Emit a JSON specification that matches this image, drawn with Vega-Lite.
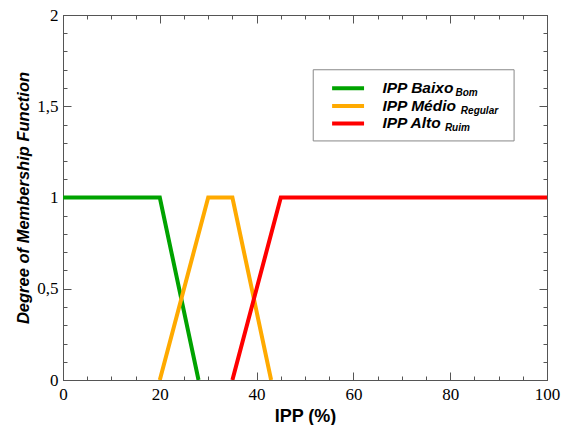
{
  "$schema": "https://vega.github.io/schema/vega-lite/v6.json",
  "width": 484,
  "height": 365,
  "autosize": {"type": "none"},
  "padding": {"left": 63, "top": 15, "right": 17, "bottom": 45},
  "background": "white",
  "config": {
    "view": {"stroke": "#555", "strokeWidth": 1},
    "axis": {
      "domainColor": "#555", "tickColor": "#555", "grid": false,
      "labelFont": "Liberation Serif", "labelFontSize": 17, "labelColor": "black",
      "titleFont": "Liberation Sans", "titleFontWeight": "bold", "titleColor": "black"
    }
  },
  "datasets": {
    "mf": [
      {"series": "Baixo", "x": 0, "y": 1},
      {"series": "Baixo", "x": 20, "y": 1},
      {"series": "Baixo", "x": 28, "y": 0},
      {"series": "Medio", "x": 20, "y": 0},
      {"series": "Medio", "x": 30, "y": 1},
      {"series": "Medio", "x": 35, "y": 1},
      {"series": "Medio", "x": 43, "y": 0},
      {"series": "Alto", "x": 35, "y": 0},
      {"series": "Alto", "x": 45, "y": 1},
      {"series": "Alto", "x": 100, "y": 1}
    ]
  },
  "resolve": {"axis": {"x": "independent", "y": "independent"}},
  "layer": [
    {
      "data": {"name": "mf"},
      "mark": {"type": "line", "strokeWidth": 4, "strokeJoin": "miter", "strokeCap": "butt", "clip": true},
      "encoding": {
        "x": {
          "field": "x", "type": "quantitative",
          "scale": {"domain": [0, 100], "nice": false, "zero": false},
          "axis": {
            "orient": "bottom", "title": "IPP (%)", "titleFontSize": 18, "titlePadding": 1,
            "values": [0,5,10,15,20,25,30,35,40,45,50,55,60,65,70,75,80,85,90,95,100],
            "labelExpr": "datum.value % 20 === 0 ? datum.label : ''",
            "tickSize": {"condition": {"test": "datum.value % 20 === 0", "value": -8}, "value": -4},
            "labelPadding": 14, "labelFlush": false, "labelOverlap": false
          }
        },
        "y": {
          "field": "y", "type": "quantitative",
          "scale": {"domain": [0, 2], "nice": false},
          "axis": {
            "orient": "left", "title": "Degree of Membership Function", "titleFontSize": 16.5,
            "titleFontStyle": "italic", "titlePadding": 5,
            "values": [0,0.1,0.2,0.3,0.4,0.5,0.6,0.7,0.8,0.9,1,1.1,1.2,1.3,1.4,1.5,1.6,1.7,1.8,1.9,2],
            "labelExpr": "abs(datum.value*2 - round(datum.value*2)) < 1e-6 ? replace(format(datum.value, '~g'), '.', ',') : ''",
            "tickSize": {"condition": {"test": "abs(datum.value*2 - round(datum.value*2)) < 1e-6", "value": -8}, "value": -4},
            "labelPadding": 13, "labelFlush": false, "labelOverlap": false
          }
        },
        "color": {
          "field": "series", "type": "nominal",
          "scale": {"domain": ["Baixo", "Medio", "Alto"], "range": ["#00a300", "#ffaa00", "#ff0000"]},
          "legend": null
        },
        "order": {"field": "x", "type": "quantitative"}
      }
    },
    {
      "data": {"name": "mf"},
      "mark": {"type": "point", "opacity": 0},
      "encoding": {
        "x": {
          "field": "x", "type": "quantitative",
          "axis": {
            "orient": "top", "title": null, "labels": false,
            "values": [0,5,10,15,20,25,30,35,40,45,50,55,60,65,70,75,80,85,90,95,100],
            "tickSize": {"condition": {"test": "datum.value % 20 === 0", "value": -8}, "value": -4}
          }
        },
        "y": {
          "field": "y", "type": "quantitative",
          "axis": {
            "orient": "right", "title": null, "labels": false,
            "values": [0,0.1,0.2,0.3,0.4,0.5,0.6,0.7,0.8,0.9,1,1.1,1.2,1.3,1.4,1.5,1.6,1.7,1.8,1.9,2],
            "tickSize": {"condition": {"test": "abs(datum.value*2 - round(datum.value*2)) < 1e-6", "value": -8}, "value": -4}
          }
        }
      }
    },
    {
      "data": {"values": [{}]},
      "mark": {"type": "rect", "fill": "white", "stroke": "#888", "strokeWidth": 1},
      "encoding": {
        "x": {"datum": 51.7, "type": "quantitative", "axis": null},
        "x2": {"datum": 93.2},
        "y": {"datum": 1.70, "type": "quantitative", "axis": null},
        "y2": {"datum": 1.31}
      }
    },
    {
      "data": {"values": [{}]},
      "mark": {"type": "rule", "strokeWidth": 4, "color": "#00a300"},
      "encoding": {
        "x": {"datum": 55.6, "type": "quantitative", "axis": null}, "x2": {"datum": 62.2},
        "y": {"datum": 1.598, "type": "quantitative", "axis": null}
      }
    },
    {
      "data": {"values": [{}]},
      "mark": {"type": "rule", "strokeWidth": 4, "color": "#ffaa00"},
      "encoding": {
        "x": {"datum": 55.6, "type": "quantitative", "axis": null}, "x2": {"datum": 62.2},
        "y": {"datum": 1.501, "type": "quantitative", "axis": null}
      }
    },
    {
      "data": {"values": [{}]},
      "mark": {"type": "rule", "strokeWidth": 4, "color": "#ff0000"},
      "encoding": {
        "x": {"datum": 55.6, "type": "quantitative", "axis": null}, "x2": {"datum": 62.2},
        "y": {"datum": 1.406, "type": "quantitative", "axis": null}
      }
    },
    {
      "data": {"values": [{}]},
      "mark": {"type": "text", "text": "IPP Baixo", "align": "left", "baseline": "middle", "font": "Liberation Sans", "fontSize": 15.5, "fontWeight": "bold", "fontStyle": "italic"},
      "encoding": {
        "x": {"datum": 66.0, "type": "quantitative", "axis": null},
        "y": {"datum": 1.598, "type": "quantitative", "axis": null}
      }
    },
    {
      "data": {"values": [{}]},
      "mark": {"type": "text", "text": "IPP Médio", "align": "left", "baseline": "middle", "font": "Liberation Sans", "fontSize": 15.5, "fontWeight": "bold", "fontStyle": "italic"},
      "encoding": {
        "x": {"datum": 66.0, "type": "quantitative", "axis": null},
        "y": {"datum": 1.501, "type": "quantitative", "axis": null}
      }
    },
    {
      "data": {"values": [{}]},
      "mark": {"type": "text", "text": "IPP Alto", "align": "left", "baseline": "middle", "font": "Liberation Sans", "fontSize": 15.5, "fontWeight": "bold", "fontStyle": "italic"},
      "encoding": {
        "x": {"datum": 66.0, "type": "quantitative", "axis": null},
        "y": {"datum": 1.406, "type": "quantitative", "axis": null}
      }
    },
    {
      "data": {"values": [{}]},
      "mark": {"type": "text", "text": "Bom", "align": "left", "baseline": "middle", "dy": 5, "font": "Liberation Sans", "fontSize": 10, "fontWeight": "bold", "fontStyle": "italic"},
      "encoding": {
        "x": {"datum": 81.1, "type": "quantitative", "axis": null},
        "y": {"datum": 1.598, "type": "quantitative", "axis": null}
      }
    },
    {
      "data": {"values": [{}]},
      "mark": {"type": "text", "text": "Regular", "align": "left", "baseline": "middle", "dy": 5, "font": "Liberation Sans", "fontSize": 10, "fontWeight": "bold", "fontStyle": "italic"},
      "encoding": {
        "x": {"datum": 82.2, "type": "quantitative", "axis": null},
        "y": {"datum": 1.501, "type": "quantitative", "axis": null}
      }
    },
    {
      "data": {"values": [{}]},
      "mark": {"type": "text", "text": "Ruim", "align": "left", "baseline": "middle", "dy": 5, "font": "Liberation Sans", "fontSize": 10, "fontWeight": "bold", "fontStyle": "italic"},
      "encoding": {
        "x": {"datum": 78.9, "type": "quantitative", "axis": null},
        "y": {"datum": 1.406, "type": "quantitative", "axis": null}
      }
    }
  ]
}
